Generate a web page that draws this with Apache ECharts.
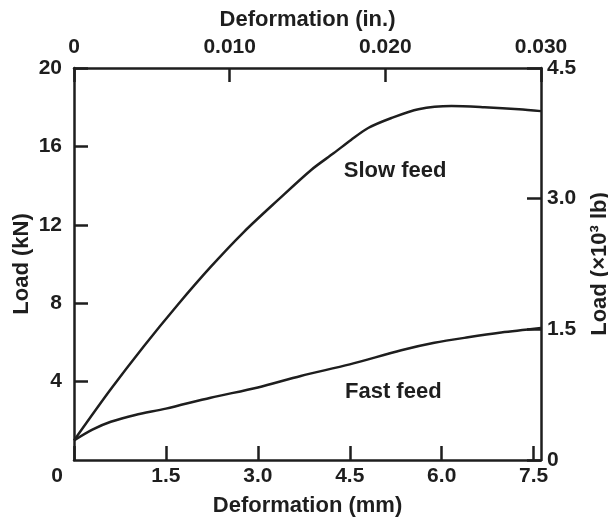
<!DOCTYPE html>
<html>
<head>
<meta charset="utf-8">
<script src="https://cdn.jsdelivr.net/npm/echarts@6/dist/echarts.min.js"></script>
<style>
html,body{margin:0;padding:0;background:#fff;}
#chart{width:608px;height:519px;}
</style>
</head>
<body>
<div id="chart"></div>
<script>
// Deformation (mm) and load (kN)
const slowX = [0, 0.59, 1.13, 1.69, 2.23, 2.77, 3.33, 3.87, 4.24, 4.52, 4.80, 5.18, 5.62, 6.16, 6.70, 7.26, 7.62];
const slowY = [1.0, 3.57, 5.77, 7.91, 9.85, 11.63, 13.27, 14.8, 15.66, 16.33, 16.94, 17.45, 17.9, 18.06, 18.0, 17.9, 17.8];
const fastX = [0, 0.3, 0.6, 1.0, 1.5, 2.23, 3.0, 3.7, 4.5, 5.34, 5.88, 6.43, 6.97, 7.62];
const fastY = [1.0, 1.55, 1.95, 2.3, 2.62, 3.18, 3.7, 4.29, 4.88, 5.6, 5.98, 6.26, 6.5, 6.73];
const annotations = [
  { name: 'Slow feed', x: 5.24, y: 14.74 },
  { name: 'Fast feed', x: 5.21, y: 3.47 }
];
const mmTicks = { min: 0, max: 7.62, interval: 1.5 };
const inTicks = { min: 0, max: 0.030, interval: 0.010 };
const kNTicks = { min: 0, max: 20, interval: 4 };
const klbTicks = { min: 0, max: 4.5, interval: 1.5 };

const FONT = 'Liberation Sans';
const INK = '#1e1e1e';
const axisLine = { show: true, onZero: false, lineStyle: { color: INK, width: 2.5 } };
const axisTick = { show: true, inside: true, length: 14, lineStyle: { color: INK, width: 2.5 } };
const lbl = { color: INK, fontFamily: FONT, fontWeight: 'bold', fontSize: 21 };
const nm = { color: INK, fontFamily: FONT, fontWeight: 'bold', fontSize: 22 };

const chart = echarts.init(document.getElementById('chart'), null, { renderer: 'canvas' });
chart.setOption({
  animation: false,
  backgroundColor: '#fff',
  grid: { left: 74, right: 67, top: 68, bottom: 59, containLabel: false, outerBoundsMode: 'none' },
  xAxis: [
    {
      type: 'value', position: 'bottom', ...mmTicks,
      name: 'Deformation (mm)', nameLocation: 'middle', nameGap: 35, nameTextStyle: nm,
      axisLine, axisTick, splitLine: { show: false },
      axisLabel: {
        ...lbl, margin: 6, showMaxLabel: false,
        formatter: v => v === 0 ? '{z|0}' : v.toFixed(1),
        rich: { z: { ...lbl, padding: [0, 34, 0, 0] } }
      }
    },
    {
      type: 'value', position: 'top', ...inTicks,
      name: 'Deformation (in.)', nameLocation: 'middle', nameGap: 37, nameTextStyle: nm,
      axisLine, axisTick, splitLine: { show: false },
      axisLabel: { ...lbl, margin: 10, formatter: v => v === 0 ? '0' : v.toFixed(3) }
    }
  ],
  yAxis: [
    {
      type: 'value', position: 'left', ...kNTicks,
      name: 'Load (kN)', nameLocation: 'middle', nameGap: 41, nameRotate: 90, nameTextStyle: nm,
      nameMoveOverlap: false,
      axisLine, axisTick, splitLine: { show: false },
      axisLabel: { ...lbl, margin: 12, showMinLabel: false }
    },
    {
      type: 'value', position: 'right', ...klbTicks,
      name: 'Load (×10³ lb)', nameLocation: 'middle', nameGap: 48, nameRotate: 90, nameTextStyle: nm,
      axisLine, axisTick, splitLine: { show: false },
      axisLabel: { ...lbl, margin: 6, formatter: v => v === 0 ? '0' : v.toFixed(1) }
    }
  ],
  series: [
    {
      name: 'Slow feed', type: 'line', xAxisIndex: 0, yAxisIndex: 0,
      data: slowX.map((x, i) => [x, slowY[i]]),
      showSymbol: false, smooth: 0.3,
      lineStyle: { color: INK, width: 2.5 }
    },
    {
      name: 'Fast feed', type: 'line', xAxisIndex: 0, yAxisIndex: 0,
      data: fastX.map((x, i) => [x, fastY[i]]),
      showSymbol: false, smooth: 0.3,
      lineStyle: { color: INK, width: 2.5 }
    },
    {
      name: 'labels', type: 'scatter', xAxisIndex: 0, yAxisIndex: 0,
      symbolSize: 0,
      itemStyle: { opacity: 1 },
      data: annotations.map(a => ({ name: a.name, value: [a.x, a.y] })),
      label: {
        show: true, position: 'inside', formatter: p => p.name, opacity: 1,
        color: INK, fontFamily: FONT, fontWeight: 'bold', fontSize: 22
      },
      silent: true
    }
  ]
});
</script>
</body>
</html>
